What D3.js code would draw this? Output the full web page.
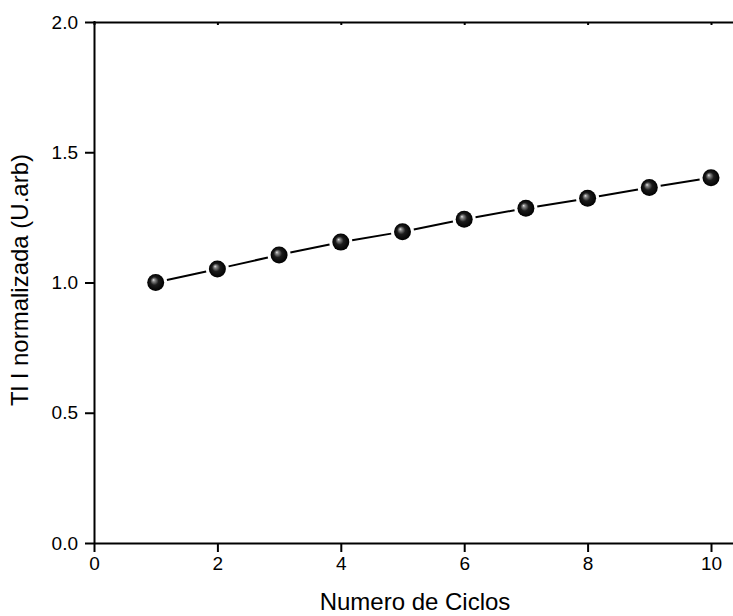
<!DOCTYPE html>
<html>
<head>
<meta charset="utf-8">
<script src="https://cdn.jsdelivr.net/npm/d3@7"></script>
<style>
  html, body { margin: 0; padding: 0; background: #fff; }
  svg { display: block; }
  text { font-family: "Liberation Sans", Arial, sans-serif; fill: #000; }
</style>
</head>
<body>
<svg id="chart" width="733" height="616"></svg>
<script>
const cycles = [1, 2, 3, 4, 5, 6, 7, 8, 9, 10];
const tlValues = [1.0, 1.052, 1.106, 1.155, 1.195, 1.243, 1.285, 1.323, 1.365, 1.402];
const xTicks = [0, 2, 4, 6, 8, 10];
const yTicks = [0.0, 0.5, 1.0, 1.5, 2.0];
const xTitle = "Numero de Ciclos";
const yTitle = "Tl I normalizada (U.arb)";

const svg = d3.select("#chart");
const mLeft = 94, mTop = 22, mBottom = 543;
const pxPerUnit = 61.7;
const x = d3.scaleLinear().domain([0, 10.6]).range([mLeft, mLeft + 10.6 * pxPerUnit]);
const y = d3.scaleLinear().domain([0, 2]).range([mBottom, mTop]);

const defs = svg.append("defs");
const grad = defs.append("radialGradient").attr("id", "ball")
  .attr("cx", "50%").attr("cy", "50%").attr("r", "50%")
  .attr("fx", "36%").attr("fy", "34%");
grad.append("stop").attr("offset", "0%").attr("stop-color", "#e6e6e6");
grad.append("stop").attr("offset", "16%").attr("stop-color", "#8a8a8a");
grad.append("stop").attr("offset", "48%").attr("stop-color", "#1c1c1c");
grad.append("stop").attr("offset", "100%").attr("stop-color", "#000");

// Axes
const xAxis = d3.axisBottom(x).tickValues(xTicks).tickFormat(d3.format("d")).tickSizeInner(9).tickSizeOuter(0).tickPadding(5);
const gx = svg.append("g").attr("transform", `translate(0,${mBottom})`).call(xAxis);
const yAxis = d3.axisLeft(y).tickValues(yTicks).tickFormat(d3.format(".1f")).tickSizeInner(9).tickSizeOuter(0).tickPadding(7);
const gy = svg.append("g").attr("transform", `translate(${mLeft},0)`).call(yAxis);
const xTop = d3.axisTop(x).tickValues(xTicks).tickFormat("").tickSizeInner(-3).tickSizeOuter(0);
const gt = svg.append("g").attr("transform", `translate(0,${mTop})`).call(xTop);

[gx, gy, gt].forEach(g => {
  g.select(".domain").attr("stroke", "#000").attr("stroke-width", 2);
  g.selectAll(".tick line").attr("stroke", "#000").attr("stroke-width", 2);
  g.selectAll(".tick text").style("font-size", "19px").style("font-family", '"Liberation Sans", Arial, sans-serif');
});
gy.select(".domain").attr("d", `M0.5,${mBottom + 1}V${mTop - 1}`);

// Connecting line segments with gaps around markers
const r = 8.5, gap = 3;
const pts = cycles.map((c, i) => [x(c), y(tlValues[i])]);
const segs = [];
for (let i = 0; i < pts.length - 1; i++) {
  const [x1, y1] = pts[i], [x2, y2] = pts[i + 1];
  const dx = x2 - x1, dy = y2 - y1, len = Math.hypot(dx, dy);
  const o = r + gap;
  segs.push([x1 + dx / len * o, y1 + dy / len * o, x2 - dx / len * o, y2 - dy / len * o]);
}
svg.append("g").selectAll("line").data(segs).join("line")
  .attr("x1", d => d[0]).attr("y1", d => d[1]).attr("x2", d => d[2]).attr("y2", d => d[3])
  .attr("stroke", "#000").attr("stroke-width", 2);

svg.append("g").selectAll("circle").data(cycles).join("circle")
  .attr("cx", d => x(d)).attr("cy", (d, i) => y(tlValues[i])).attr("r", r)
  .attr("fill", "url(#ball)");

// Titles
svg.append("text").attr("x", 415).attr("y", 610).attr("text-anchor", "middle")
  .style("font-size", "24px").text(xTitle);
svg.append("text").attr("transform", "translate(28,280) rotate(-90)").attr("text-anchor", "middle")
  .style("font-size", "24px").text(yTitle);
</script>
</body>
</html>
